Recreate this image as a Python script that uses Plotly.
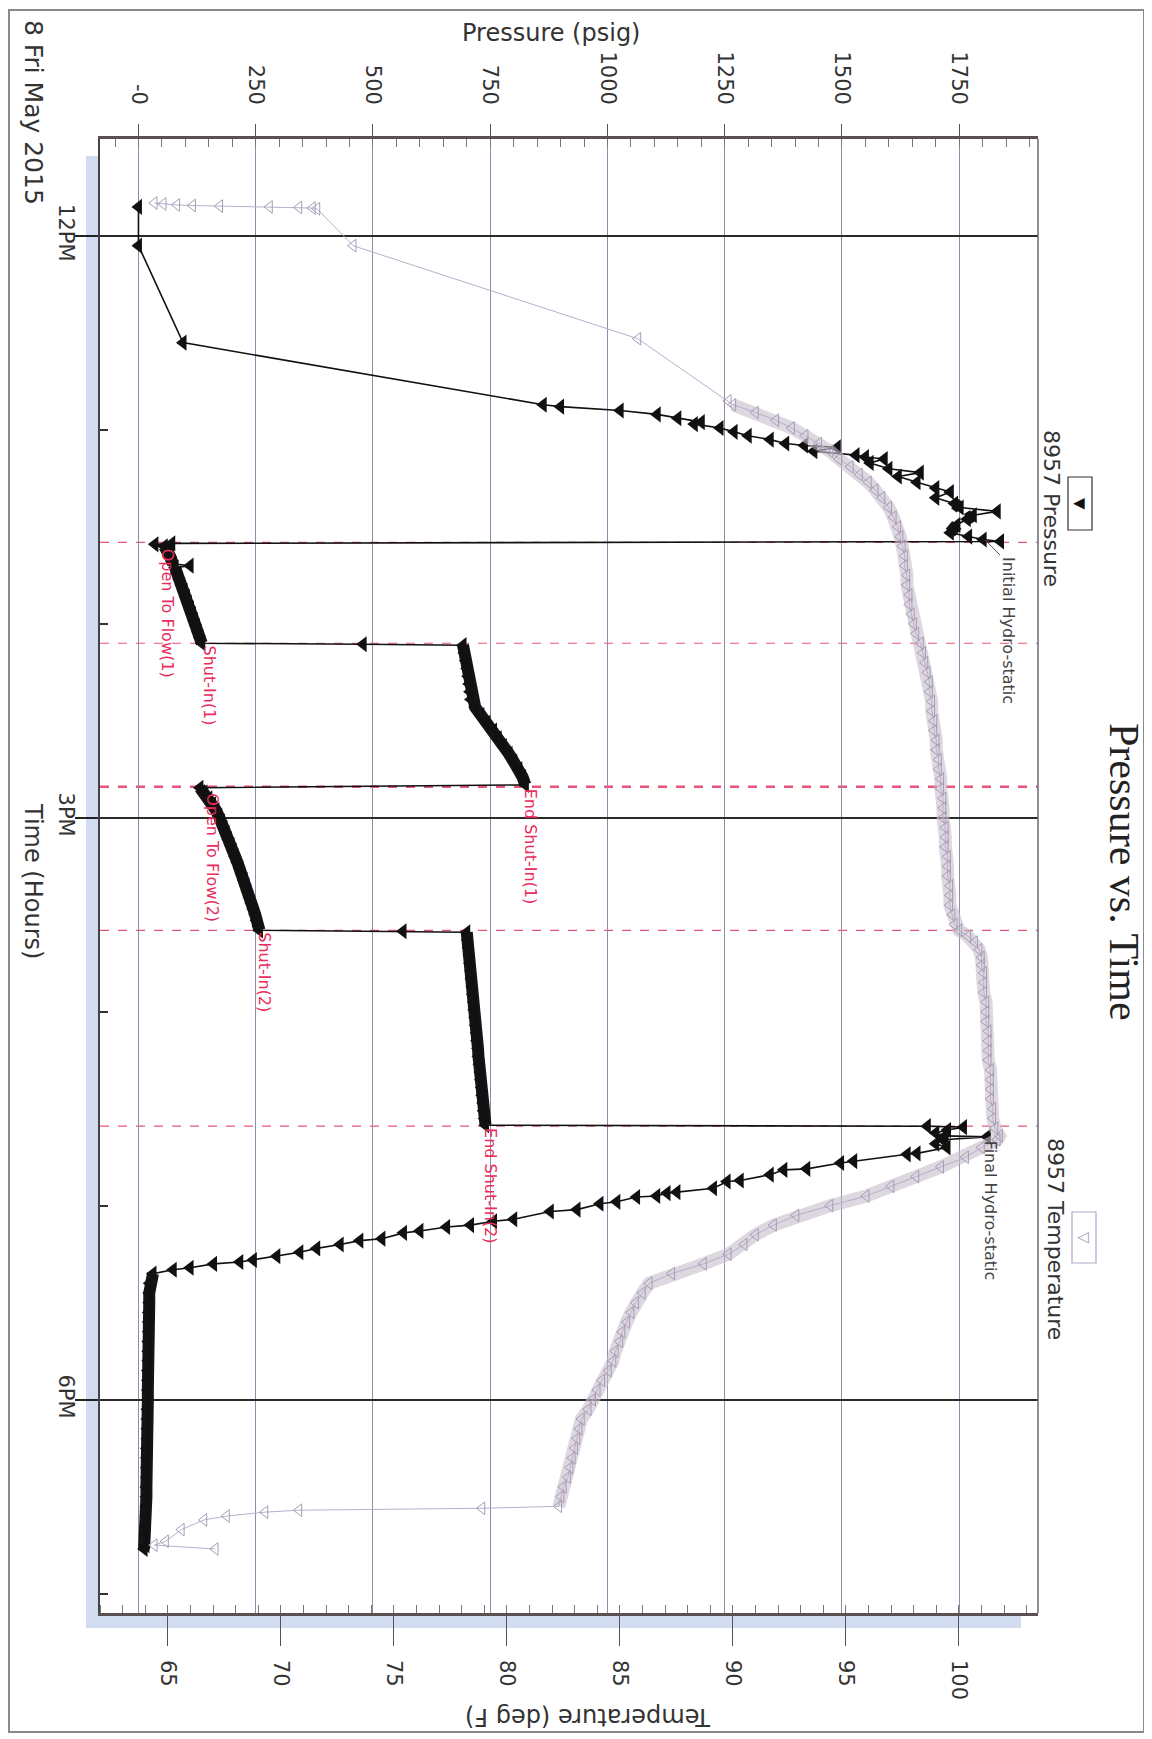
import plotly.graph_objects as go

# ---------------- DATA (time in decimal hours, 8 May 2015) ----------------
# Pressure gauge 8957 (psig)
RIH_TIME = [11.85, 12.05, 12.55, 12.87, 12.88, 12.90, 12.92, 12.94, 12.96, 12.97, 12.99, 13.01, 13.03,
            13.05, 13.07, 13.08, 13.09, 13.11, 13.13, 13.14, 13.15, 13.17, 13.20, 13.22, 13.24, 13.27,
            13.30, 13.32, 13.35, 13.38, 13.40, 13.42, 13.44, 13.46, 13.49, 13.53, 13.55, 13.565, 13.575]
RIH_PSI = [0, 0, 95, 863, 900, 1027, 1106, 1150, 1200, 1185, 1240, 1270, 1300,
           1347, 1380, 1420, 1490, 1440, 1530, 1550, 1590, 1560, 1600, 1667, 1620, 1660,
           1700, 1731, 1700, 1740, 1752, 1831, 1780, 1767, 1745, 1731, 1770, 1801, 1838]

FLOW1_TIME = [13.585, 13.59, 13.60, 13.62, 13.65, 13.68, 13.69, 13.70, 13.71, 13.74, 13.77, 13.80,
              13.83, 13.86, 13.89, 13.92, 13.95, 13.98, 14.01, 14.04, 14.07, 14.10]
FLOW1_PSI = [71, 35, 55, 63, 67, 72, 74, 110, 78, 82, 87, 92,
             97, 102, 106, 111, 115, 119, 123, 127, 131, 135]

SHUTIN1_TIME = [14.105, 14.11, 14.15, 14.19, 14.23, 14.27, 14.31, 14.35, 14.39, 14.43, 14.47, 14.51,
                14.55, 14.59, 14.63, 14.67, 14.71, 14.75, 14.79, 14.83]
SHUTIN1_PSI = [479, 692, 695, 698, 701, 703, 705, 707, 709, 718, 730, 743,
               757, 767, 778, 790, 800, 811, 819, 825]

FLOW2_TIME = [14.845, 14.87, 14.90, 14.93, 14.96, 14.99, 15.02, 15.05, 15.08, 15.11, 15.14, 15.17, 15.20,
              15.23, 15.26, 15.29, 15.32, 15.35, 15.38, 15.41, 15.44, 15.47, 15.50, 15.53, 15.56, 15.58]
FLOW2_PSI = [131, 140, 150, 158, 165, 171, 177, 182, 187, 192, 197, 202, 206,
             211, 216, 220, 225, 229, 233, 237, 241, 245, 249, 252, 256, 258]

SHUTIN2_TIME = [15.585, 15.59, 15.63, 15.67, 15.71, 15.75, 15.79, 15.83, 15.87, 15.91, 15.95, 15.99, 16.03,
                16.07, 16.11, 16.15, 16.19, 16.23, 16.27, 16.31, 16.35, 16.39, 16.43, 16.47, 16.51, 16.55, 16.585]
SHUTIN2_PSI = [564, 700, 702, 704, 706, 707, 709, 710, 712, 713, 715, 716, 718,
               719, 721, 722, 724, 725, 727, 729, 730, 732, 733, 735, 736, 738, 740]

POOH_TIME = [16.59, 16.595, 16.61, 16.625, 16.64, 16.645, 16.66, 16.68, 16.70, 16.73, 16.735, 16.77,
             16.78, 16.81, 16.815, 16.84, 16.87, 16.875, 16.91, 16.93, 16.935, 16.95, 16.955, 16.98,
             16.99, 17.02, 17.03, 17.07, 17.08, 17.10, 17.11, 17.13, 17.14, 17.17, 17.18, 17.20,
             17.22, 17.24, 17.26, 17.28, 17.29, 17.30, 17.32, 17.33, 17.35]
POOH_PSI = [1682, 1759, 1725, 1700, 1720, 1810, 1715, 1700, 1724, 1660, 1639, 1525,
            1497, 1425, 1376, 1347, 1283, 1255, 1226, 1148, 1127, 1105, 1062, 1020,
            984, 935, 878, 800, 757, 708, 657, 600, 565, 519, 472, 430,
            380, 344, 295, 245, 216, 160, 110, 74, 31]

SURFACE_TIME = [17.40, 17.45, 17.50, 17.55, 17.60, 17.65, 17.70, 17.75, 17.80, 17.85, 17.90, 17.95,
                18.00, 18.05, 18.10, 18.15, 18.20, 18.25, 18.30, 18.35, 18.40, 18.45, 18.50, 18.55,
                18.60, 18.65, 18.70, 18.75, 18.77]
SURFACE_PSI = [24, 23, 23, 22, 22, 22, 21, 21, 21, 20, 20, 20,
               20, 19, 19, 19, 19, 18, 18, 18, 18, 17, 17, 17,
               17, 16, 16, 16, 12]

# Temperature gauge 8957 (deg F)
TEMP_RIH_TIME = [11.83, 11.835, 11.84, 11.843, 11.846, 11.85, 11.853, 11.856, 11.86, 12.05, 12.53, 12.85]
TEMP_RIH = [64.4, 64.8, 65.4, 66.1, 67.3, 69.5, 70.8, 71.4, 71.6, 73.2, 85.8, 89.8]

TEMP_TEST_TIME = [12.87, 12.91, 12.95, 12.99, 13.03, 13.07, 13.11, 13.15, 13.19, 13.23, 13.27, 13.31, 13.35,
                  13.40, 13.45, 13.50, 13.55, 13.60, 13.65, 13.70, 13.75, 13.80, 13.85,
                  13.90, 13.95, 14.00, 14.05, 14.10, 14.15, 14.20, 14.25, 14.30, 14.35,
                  14.40, 14.45, 14.50, 14.55, 14.60, 14.65, 14.70, 14.75, 14.80, 14.85,
                  14.90, 14.95, 15.00, 15.05, 15.10, 15.15, 15.20, 15.25, 15.30, 15.35,
                  15.40, 15.45, 15.50, 15.55,
                  15.58, 15.61, 15.64, 15.68, 15.72, 15.76,
                  15.80, 15.85, 15.90, 15.95, 16.00, 16.05, 16.10, 16.15, 16.20, 16.25,
                  16.30, 16.35, 16.40, 16.45, 16.50, 16.55, 16.60, 16.64]
TEMP_TEST = [90.0, 91.0, 91.9, 92.6, 93.2, 93.8, 94.3, 94.7, 95.2, 95.6, 96.0, 96.3, 96.6,
             96.9, 97.1, 97.3, 97.4, 97.5, 97.6, 97.6, 97.7, 97.7, 97.8,
             97.8, 97.9, 98.0, 98.1, 98.3, 98.4, 98.5, 98.6, 98.7, 98.7,
             98.8, 98.8, 98.9, 98.9, 99.0, 99.0, 99.1, 99.1, 99.2, 99.2,
             99.3, 99.3, 99.3, 99.4, 99.4, 99.4, 99.5, 99.5, 99.5, 99.6,
             99.6, 99.6, 99.7, 99.8,
             100.0, 100.4, 100.7, 100.9, 101.0, 101.0,
             101.1, 101.1, 101.1, 101.2, 101.2, 101.2, 101.3, 101.3, 101.3, 101.3,
             101.4, 101.4, 101.4, 101.4, 101.5, 101.5, 101.6, 101.8]

TEMP_POOH_TIME = [16.66, 16.70, 16.75, 16.80, 16.85, 16.90, 16.95, 17.00, 17.05, 17.10, 17.15, 17.20, 17.25,
                  17.30, 17.35, 17.40, 17.45, 17.50, 17.55, 17.60, 17.65, 17.70, 17.75, 17.80, 17.85,
                  17.90, 17.95, 18.00, 18.05, 18.10, 18.15, 18.20, 18.25, 18.30, 18.35, 18.40, 18.45,
                  18.50, 18.55]
TEMP_POOH = [101.7, 101.0, 100.3, 99.2, 98.1, 97.0, 95.9, 94.3, 92.8, 91.8, 91.0, 90.5, 89.8,
             88.7, 87.3, 86.3, 86.0, 85.7, 85.5, 85.3, 85.1, 85.0, 84.8, 84.7, 84.5,
             84.2, 84.0, 83.8, 83.6, 83.3, 83.2, 83.1, 83.0, 82.9, 82.8, 82.7, 82.5,
             82.4, 82.3]

TEMP_SURFACE_TIME = [18.56, 18.57, 18.58, 18.60, 18.62, 18.67, 18.73, 18.75, 18.77]
TEMP_SURFACE = [78.9, 70.8, 69.3, 67.6, 66.6, 65.6, 64.9, 64.4, 67.1]

# Test events
EVENT_TIMES = [13.58, 14.10, 14.84, 15.58, 16.59]
EVENT_LABELS = ["Open To Flow(1)", "Shut-In(1)", "End Shut-In(1)", "Open To Flow(2)", "Shut-In(2)", "End Shut-In(2)"]
HYDRO_LABELS = ["Initial Hydro-static", "Final Hydro-static"]

PRESSURE_TICKS = [0, 250, 500, 750, 1000, 1250, 1500, 1750]
PRESSURE_TICKTEXT = ["-0", "250", "500", "750", "1000", "1250", "1500", "1750"]
TEMP_TICKS = [65, 70, 75, 80, 85, 90, 95, 100]
TIME_TICKS = [12, 15, 18]
TIME_TICKTEXT = ["12PM", "3PM", "6PM"]

# ---------------- FIGURE ----------------
p_time = RIH_TIME + FLOW1_TIME + SHUTIN1_TIME + FLOW2_TIME + SHUTIN2_TIME + POOH_TIME + SURFACE_TIME
p_val = RIH_PSI + FLOW1_PSI + SHUTIN1_PSI + FLOW2_PSI + SHUTIN2_PSI + POOH_PSI + SURFACE_PSI
t_time = TEMP_RIH_TIME + TEMP_TEST_TIME + TEMP_POOH_TIME + TEMP_SURFACE_TIME
t_val = TEMP_RIH + TEMP_TEST + TEMP_POOH + TEMP_SURFACE


def dense_segments(ts, vs, max_dt, max_dv):
    """Join consecutive samples that are densely recorded (drawn as a solid band)."""
    xs, ys = [], []
    for i in range(len(ts) - 1):
        if ts[i + 1] - ts[i] <= max_dt and abs(vs[i + 1] - vs[i]) <= max_dv:
            if xs and ys[-1] == ts[i]:
                xs.append(vs[i + 1]); ys.append(ts[i + 1])
            else:
                if xs:
                    xs.append(None); ys.append(None)
                xs += [vs[i], vs[i + 1]]; ys += [ts[i], ts[i + 1]]
    return xs, ys


FONT = "DejaVu Sans"
TXT = "#333333"
RED = "#ea2d5c"

# page body has an 8px margin: figure origin sits at page (8, 8)
OFF = 8
PAGE_W, PAGE_H = 1152, 1739
W, H = PAGE_W - OFF, PAGE_H - OFF
PLOT_L, PLOT_R, PLOT_T, PLOT_B = 100, 1038, 139, 1613   # plot area in page pixels
L, T = PLOT_L - OFF, PLOT_T - OFF
R, B = W - (PLOT_R - OFF), H - (PLOT_B - OFF)
PW, PH = PLOT_R - PLOT_L, PLOT_B - PLOT_T


def px(xp):
    return (xp - PLOT_L) / PW


def py(yp):
    return (PLOT_B - yp) / PH


fig = go.Figure()

tb_x, tb_y = dense_segments(TEMP_TEST_TIME + TEMP_POOH_TIME, TEMP_TEST + TEMP_POOH, 0.051, 1.7)
fig.add_trace(go.Scatter(
    x=tb_x, y=tb_y, xaxis="x2", yaxis="y", mode="lines", hoverinfo="skip",
    line=dict(color="rgba(198,188,204,0.6)", width=13),
))
fig.add_trace(go.Scatter(
    x=t_val, y=t_time, xaxis="x2", yaxis="y", mode="lines+markers",
    name="8957 Temperature",
    line=dict(color="#b8aecc", width=1),
    marker=dict(symbol="triangle-left-open", size=11, color="#a79cb4", line=dict(width=1)),
))
pb_x, pb_y = dense_segments(p_time, p_val, 0.051, 14)
fig.add_trace(go.Scatter(
    x=pb_x, y=pb_y, xaxis="x", yaxis="y", mode="lines", hoverinfo="skip",
    line=dict(color="#151515", width=12),
))
fig.add_trace(go.Scatter(
    x=p_val, y=p_time, xaxis="x", yaxis="y", mode="lines+markers",
    name="8957 Pressure",
    line=dict(color="#111111", width=1.6),
    marker=dict(symbol="triangle-left", size=14, color="#111111"),
))

shapes = []
# drop shadow (light blue) left and bottom
shapes.append(dict(type="rect", xref="paper", yref="paper", x0=px(86), x1=px(100), y0=py(1628), y1=py(156),
                   fillcolor="#d2dcf0", line=dict(width=0), layer="below"))
shapes.append(dict(type="rect", xref="paper", yref="paper", x0=px(86), x1=px(1021), y0=py(1628), y1=py(1613),
                   fillcolor="#d2dcf0", line=dict(width=0), layer="below"))
# outer page border
shapes.append(dict(type="rect", xref="paper", yref="paper", x0=px(9), x1=px(1144), y0=py(1732), y1=py(10),
                   line=dict(color="#8a8a8a", width=2)))
# right frame line
shapes.append(dict(type="line", xref="paper", yref="paper", x0=1, x1=1, y0=0, y1=1,
                   line=dict(color="#6a6a7a", width=1.5)))
# event lines (dashed red)
for i, et in enumerate(EVENT_TIMES):
    shapes.append(dict(type="line", xref="paper", yref="y", x0=0, x1=1, y0=et, y1=et,
                       line=dict(color="#e8557a", width=2.5 if i == 2 else 1.2, dash="dash"),
                       layer="below"))
# legend boxes
shapes.append(dict(type="rect", xref="paper", yref="paper", x0=px(1068), x1=px(1092), y0=py(530), y1=py(477),
                   line=dict(color="#333333", width=1.2)))
shapes.append(dict(type="rect", xref="paper", yref="paper", x0=px(1072), x1=px(1096), y0=py(1263), y1=py(1212),
                   line=dict(color="#b0a8c8", width=1.2)))
# leader line for Initial Hydro-static
shapes.append(dict(type="line", xref="x", yref="y", x0=1805, y0=13.567, x1=1837, y1=13.645,
                   line=dict(color="#555555", width=1)))

ann = []


def add_text(text, x, y, size, angle=90, color=TXT, family=FONT, xref="paper", yref="paper",
             xanchor="center", yanchor="middle"):
    ann.append(dict(text=text, x=x, y=y, xref=xref, yref=yref, showarrow=False, textangle=angle,
                    font=dict(family=family, size=size, color=color), xanchor=xanchor, yanchor=yanchor))


add_text("Pressure (psig)", px(551), py(33), 24, angle=0)
add_text("Temperature (deg F)", px(588), py(1717), 24, angle=180)
add_text("Pressure vs. Time", px(1124), py(872), 42, family="Liberation Serif", color="#222222")
add_text("Time (Hours)", px(33), py(881), 24)
add_text("8 Fri May 2015", px(33), py(112), 25)
add_text("8957 Pressure", px(1052), py(508), 22)
add_text("8957 Temperature", px(1056), py(1239), 22)
add_text("\u25BC", px(1080), py(504), 15, color="#111111")
add_text("\u25BD", px(1084), py(1238), 15, color="#a99cbc")

# event labels (pressure position, top time)
label_pos = [(61, 13.60), (152, 14.10), (835, 14.84), (159, 14.86), (270, 15.58), (752, 16.59)]
for lab, (pp, tt) in zip(EVENT_LABELS, label_pos):
    add_text(lab, pp, tt, 16, color=RED, xref="x", yref="y", yanchor="top")
add_text(HYDRO_LABELS[0], 1855, 13.645, 16, color="#444444", xref="x", yref="y", yanchor="top")
add_text(HYDRO_LABELS[1], 1816, 16.655, 16, color="#444444", xref="x", yref="y", yanchor="top")

tickfont = dict(family=FONT, size=21, color=TXT)

fig.update_layout(
    width=W, height=H,
    margin=dict(l=L, r=R, t=T, b=B, pad=0, autoexpand=False),
    paper_bgcolor="white", plot_bgcolor="white",
    showlegend=False,
    shapes=shapes, annotations=ann,
    xaxis=dict(
        side="top", range=[-82, 1918], tickmode="array", tickvals=PRESSURE_TICKS, ticktext=PRESSURE_TICKTEXT,
        tickangle=90, ticks="outside", ticklen=12, tickcolor="#555555", tickwidth=1,
        showgrid=True, gridcolor="#8e8cab", gridwidth=1, zeroline=False, automargin=False,
        showline=True, linecolor="#5b5050", linewidth=2.5,
        minor=dict(dtick=50, tick0=0, ticks="inside", ticklen=8, tickcolor="#777777", showgrid=False),
        tickfont=tickfont, ticklabelstandoff=12,
    ),
    xaxis2=dict(
        overlaying="x", side="bottom", anchor="y", range=[62, 103.5],
        tickmode="array", tickvals=TEMP_TICKS, tickangle=90, automargin=False,
        ticks="outside", ticklen=30, tickcolor="#555555", tickwidth=1,
        showgrid=False, zeroline=False, showline=True, linecolor="#5b5050", linewidth=2.5,
        minor=dict(dtick=1, tick0=65, ticks="inside", ticklen=8, tickcolor="#777777", showgrid=False),
        tickfont=tickfont, ticklabelstandoff=10,
    ),
    yaxis=dict(
        range=[19.1, 11.5], tickmode="array", tickvals=TIME_TICKS, ticktext=TIME_TICKTEXT,
        tickangle=90, ticks="outside", ticklen=23, tickcolor="#222222", tickwidth=1.5,
        showgrid=True, gridcolor="#2a2a2a", gridwidth=1.5, zeroline=False, automargin=False,
        showline=True, linecolor="#444444", linewidth=2,
        minor=dict(tickvals=[13, 14, 16, 17, 19], ticks="inside", ticklen=8, tickcolor="#333333",
                   showgrid=False),
        tickfont=tickfont, ticklabelstandoff=-9,
    ),
)

fig.write_html("out.html")
